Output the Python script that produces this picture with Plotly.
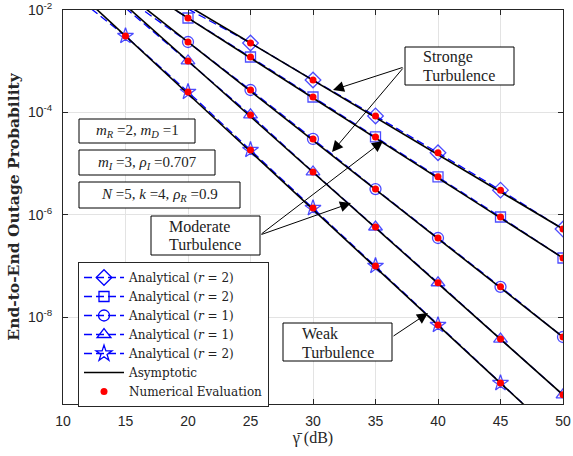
import numpy as np
import plotly.graph_objects as go

# ---------------- data (log10 of outage probability) ----------------
x_ticks = [10, 15, 20, 25, 30, 35, 40, 45, 50]
y_tick_vals = [1e-8, 1e-6, 1e-4, 1e-2]
y_tick_text = ["10<sup>-8</sup>", "10<sup>-6</sup>", "10<sup>-4</sup>", "10<sup>-2</sup>"]

# Analytical curves (first point of each lies above the plot top)
diamond_x = [20, 25, 30, 35, 40, 45, 50]
diamond_log = [-1.98, -2.645, -3.368, -4.07, -4.79, -5.52, -6.28]
square_x = [15, 20, 25, 30, 35, 40, 45, 50]
square_log = [-1.42, -2.156, -2.918, -3.70, -4.48, -5.26, -6.045, -6.846]
circle_x = [15, 20, 25, 30, 35, 40, 45, 50]
circle_log = [-1.76, -2.625, -3.563, -4.52, -5.50, -6.455, -7.41, -8.39]
triangle_x = [15, 20, 25, 30, 35, 40, 45, 50]
triangle_log = [-1.96, -2.996, -4.05, -5.165, -6.24, -7.33, -8.43, -9.52]
star_x = [10, 15, 20, 25, 30, 35, 40, 45, 50]
star_log = [-1.54, -2.508, -3.60, -4.735, -5.87, -7.00, -8.155, -9.29, -10.42]

# Asymptotic straight lines (end points at 10 dB and 50 dB)
asym_x = [10, 50]
diamond_asym = [-0.464, -6.28]
square_asym = [-0.593, -6.846]
circle_asym = [-0.703, -8.39]
triangle_asym = [-0.821, -9.52]
star_asym = [-1.378, -10.42]

legend_names = ["Analytical (<i>r</i> = 2)", "Analytical (<i>r</i> = 2)",
                "Analytical (<i>r</i> = 1)", "Analytical (<i>r</i> = 1)",
                "Analytical (<i>r</i> = 2)"]

Y_TOP_LOG = -2.0
Y_BOT_LOG = np.log10(2e-10)

SERIF = "Liberation Serif"
LEG_SERIF = "DejaVu Serif"
SANS = "Liberation Sans"
BLUE = "rgb(0,0,255)"
RED = "rgb(255,0,0)"

curves = [
    (diamond_x, diamond_log, diamond_asym, "diamond-open", 12),
    (square_x, square_log, square_asym, "square-open", 10),
    (circle_x, circle_log, circle_asym, "circle-open", 11),
    (triangle_x, triangle_log, triangle_asym, "triangle-up-open", 12),
    (star_x, star_log, star_asym, "star-open", 12),
]

fig = go.Figure()
DASH = "8px,4px"

# analytical curves
for xs, ls, _, sym, sz in curves:
    ys = [10 ** v for v in ls]
    sizes = [sz if (Y_BOT_LOG <= v <= Y_TOP_LOG) else 0 for v in ls]
    fig.add_trace(go.Scatter(
        x=xs, y=ys, mode="lines+markers", showlegend=False,
        line=dict(color=BLUE, width=1.3, dash=DASH),
        marker=dict(symbol=sym, size=sizes, color=BLUE, line=dict(color=BLUE, width=1.3)),
    ))
# asymptotic lines
for _, _, asym, _, _ in curves:
    fig.add_trace(go.Scatter(
        x=asym_x, y=[10 ** v for v in asym], mode="lines", showlegend=False,
        line=dict(color="black", width=1.6),
    ))
# numerical evaluation (points inside the plotted range)
for xs, ls, _, _, _ in curves:
    px_ = [x for x, v in zip(xs, ls) if Y_BOT_LOG <= v <= Y_TOP_LOG]
    py_ = [10 ** v for v in ls if Y_BOT_LOG <= v <= Y_TOP_LOG]
    fig.add_trace(go.Scatter(
        x=px_, y=py_, mode="markers", showlegend=False,
        marker=dict(symbol="circle", size=7, color=RED),
    ))

# legend-only entries
for (xs, ls, _, sym, sz), nm in zip(curves, legend_names):
    fig.add_trace(go.Scatter(
        x=[None], y=[None], mode="lines+markers", name=nm,
        line=dict(color=BLUE, width=1.3, dash=DASH),
        marker=dict(symbol=sym, size=sz, color=BLUE, line=dict(color=BLUE, width=1.3)),
    ))
fig.add_trace(go.Scatter(x=[None], y=[None], mode="lines", name="Asymptotic",
                         line=dict(color="black", width=1.6)))
fig.add_trace(go.Scatter(x=[None], y=[None], mode="markers", name="Numerical Evaluation",
                         marker=dict(symbol="circle", size=7, color=RED)))

# ---------------- layout helpers (page pixel coordinates) ----------------
L, R, T, B = 63, 563, 10, 404     # plot area in page pixels
FIG_W, FIG_H = 573, 456

def ppx(x):
    return (x - L) / (R - L)
def ppy(y):
    return (B - y) / (B - T)
def dx(x):
    return 10 + (x - L) * 40 / (R - L)
def dy(y):
    return Y_TOP_LOG - (y - T) * (Y_TOP_LOG - Y_BOT_LOG) / (B - T)

shapes = []
annotations = []

def box(x0, y0, x1, y1):
    shapes.append(dict(type="rect", xref="paper", yref="paper",
                       x0=ppx(x0), x1=ppx(x1), y0=ppy(y1), y1=ppy(y0),
                       line=dict(color="black", width=1), fillcolor="white", layer="above"))

def text(x, y, s, anchor="center", size=15):
    annotations.append(dict(xref="paper", yref="paper", x=ppx(x), y=ppy(y), text=s,
                            showarrow=False, xanchor=anchor, yanchor="middle",
                            font=dict(family=SERIF, size=size, color="#222222")))

def arrow(tx, ty, hx, hy):
    annotations.append(dict(xref="x", yref="y", axref="x", ayref="y",
                            x=dx(hx), y=dy(hy), ax=dx(tx), ay=dy(ty), text="",
                            showarrow=True, arrowhead=2, arrowsize=2.2, arrowwidth=1,
                            arrowcolor="black", standoff=0, startstandoff=0))

# parameter boxes
box(79, 119, 195, 143)
text(137, 131, "<i>m</i><sub><i>R</i></sub> =2, <i>m</i><sub><i>D</i></sub> =1")
box(79, 150, 215, 175)
text(147, 162.5, "<i>m</i><sub><i>I</i></sub> =3, <i>ρ</i><sub><i>I</i></sub> =0.707")
box(79, 182, 240, 208)
text(159.5, 195, "<i>N</i> =5, <i>k</i> =4, <i>ρ</i><sub><i>R</i></sub> =0.9")

# turbulence boxes
box(405, 47, 514, 85)
text(421, 57, "Stronge", "left", 16)
text(421, 75, "Turbulence", "left", 16)
box(151, 216, 260, 255)
text(167, 227, "Moderate", "left", 16)
text(167, 245, "Turbulence", "left", 16)
box(283, 323, 392, 361)
text(300, 333, "Weak", "left", 16)
text(300, 352, "Turbulence", "left", 16)

arrow(404, 67, 333, 90)
arrow(404, 67, 332, 152)
arrow(260, 235, 383, 141)
arrow(260, 235, 351, 203)
arrow(392, 337, 428, 313)

axis_common = dict(showline=True, linecolor="#262626", linewidth=1, mirror="ticks",
                   ticks="inside", ticklen=5, tickcolor="#262626", automargin=False,
                   showgrid=True, gridcolor="#e3e3e3", gridwidth=1, zeroline=False,
                   tickfont=dict(family=SANS, size=14, color="#262626"))

fig.update_layout(
    width=FIG_W, height=FIG_H,
    margin=dict(l=L, r=FIG_W - R, t=T, b=FIG_H - B, pad=0),
    paper_bgcolor="white", plot_bgcolor="white",
    xaxis=dict(range=[10, 50], tickvals=x_ticks, ticklabelstandoff=4,
               title=dict(text="γ\u0304 (dB)", font=dict(family=SERIF, size=16, color="#262626"),
                          standoff=2),
               **axis_common),
    yaxis=dict(type="log", range=[Y_BOT_LOG, Y_TOP_LOG], tickvals=y_tick_vals,
               ticktext=y_tick_text, ticklabelstandoff=7,
               title=dict(text="<b>End-to-End Outage Probability</b>",
                          font=dict(family=LEG_SERIF, size=15.5, color="#262626"), standoff=4),
               **axis_common),
    legend=dict(x=ppx(78), y=ppy(262), xanchor="left", yanchor="top",
                bgcolor="white", bordercolor="#262626", borderwidth=1,
                font=dict(family=LEG_SERIF, size=12, color="#222222"),
                tracegroupgap=0, itemwidth=40),
    shapes=shapes, annotations=annotations,
    showlegend=True,
)

# remove the default page margin so the figure fills the 573x456 window
fig.write_html("out.html",
               config={"displayModeBar": False},
               post_script="document.body.style.margin='0px';document.body.style.overflow='hidden';")
